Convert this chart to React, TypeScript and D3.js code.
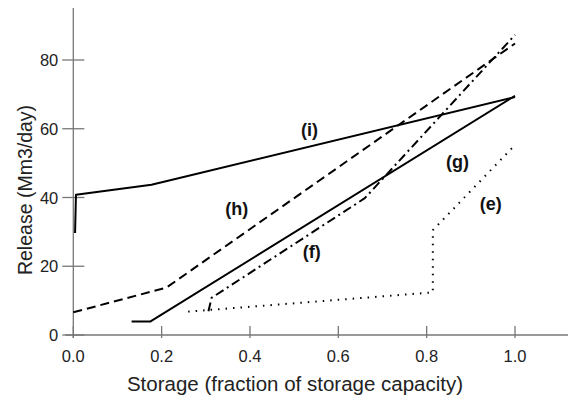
import React from "react";
import * as d3 from "d3";

type Pt = [number, number];

const curveI: Pt[] = [[0.004, 29.7], [0.006, 40.8], [0.177, 43.7], [1.0, 69.2]];
const curveH: Pt[] = [[0.0, 6.6], [0.211, 13.8], [1.0, 84.8]];
const curveG: Pt[] = [[0.132, 3.9], [0.174, 3.9], [1.0, 69.6]];
const curveF: Pt[] = [[0.306, 6.9], [0.313, 10.8], [0.66, 39.8], [1.0, 87.3]];
const curveE: Pt[] = [[0.26, 6.8], [0.814, 12.4], [0.814, 30.5], [0.998, 55.0]];

const xTicks = [0, 0.2, 0.4, 0.6, 0.8, 1.0];
const yTicks = [0, 20, 40, 60, 80];

const labels: { text: string; x: number; y: number }[] = [
  { text: "(i)", x: 0.535, y: 58 },
  { text: "(h)", x: 0.37, y: 35 },
  { text: "(g)", x: 0.87, y: 48.5 },
  { text: "(f)", x: 0.54, y: 22.5 },
  { text: "(e)", x: 0.945, y: 36.5 },
];

export default function App() {
  const W = 569, H = 399;
  const x = d3.scaleLinear().domain([0, 1]).range([73.3, 515]);
  const y = d3.scaleLinear().domain([0, 80]).range([335, 60]);
  const line = d3.line<Pt>().x((d) => x(d[0])).y((d) => y(d[1]));
  const axisColor = "#777";
  const font = "'Liberation Sans', Arial, sans-serif";
  const series = [
    { d: curveI, dash: undefined as string | undefined },
    { d: curveH, dash: "9,5" },
    { d: curveG, dash: undefined },
    { d: curveF, dash: "9,4,2,4" },
    { d: curveE, dash: "1.5,6" },
  ];
  return (
    <svg width={W} height={H} style={{ position: "absolute", left: 0, top: 0 }} fontFamily={font}>
      <rect width={W} height={H} fill="#fff" />
      {/* axes */}
      <line x1={x(0)} x2={x(0)} y1={8} y2={y(0) + 3} stroke={axisColor} strokeWidth={1.3} />
      <line x1={x(0) - 8} x2={568} y1={y(0)} y2={y(0)} stroke={axisColor} strokeWidth={1.3} />
      {yTicks.map((t) => (
        <g key={"y" + t}>
          <line x1={x(0) - 11} x2={x(0) + 11} y1={y(t)} y2={y(t)} stroke={axisColor} strokeWidth={1.3} />
          <text x={x(0) - 15} y={y(t) + 6} textAnchor="end" fontSize={16.5} fill="#222">
            {t}
          </text>
        </g>
      ))}
      {xTicks.map((t) => (
        <g key={"x" + t}>
          <line x1={x(t)} x2={x(t)} y1={y(0) - 9} y2={y(0) + 3} stroke={axisColor} strokeWidth={1.3} />
          <text x={x(t)} y={y(0) + 27} textAnchor="middle" fontSize={16.5} fill="#222">
            {d3.format(".1f")(t)}
          </text>
        </g>
      ))}
      {series.map((s, i) => (
        <path
          key={i}
          d={line(s.d) || ""}
          fill="none"
          stroke="#000"
          strokeWidth={2}
          strokeDasharray={s.dash}
          strokeLinejoin="round"
        />
      ))}
      {labels.map((l) => (
        <text key={l.text} x={x(l.x)} y={y(l.y)} textAnchor="middle" fontSize={18} fontWeight="bold" fill="#111">
          {l.text}
        </text>
      ))}
      <text x={295} y={391} textAnchor="middle" fontSize={20.5} fill="#222">
        Storage (fraction of storage capacity)
      </text>
      <text transform="translate(32,190) rotate(-90)" textAnchor="middle" fontSize={19.5} fill="#222">
        Release (Mm3/day)
      </text>
    </svg>
  );
}
